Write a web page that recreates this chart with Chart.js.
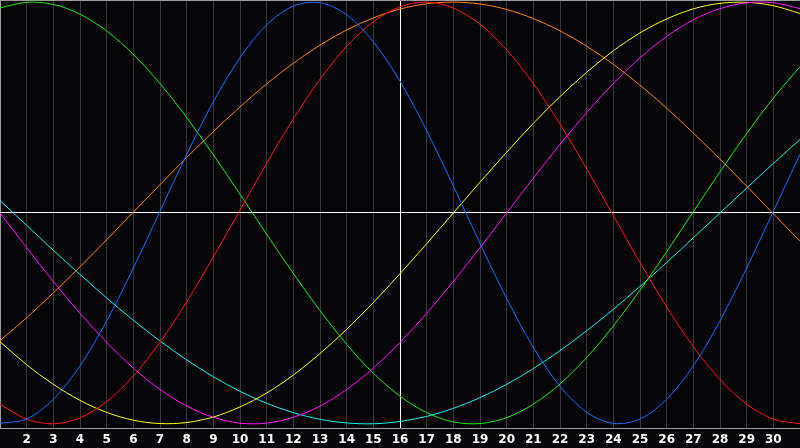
<!DOCTYPE html>
<html>
<head>
<meta charset="utf-8">
<script src="https://cdn.jsdelivr.net/npm/chart.js"></script>
<style>
  html, body { margin: 0; padding: 0; background: #050508; }
  canvas { display: block; }
</style>
</head>
<body>
<canvas id="bio" width="800" height="448"></canvas>
<script>
const days = ['1','2','3','4','5','6','7','8','9','10','11','12','13','14','15','16',
  '17','18','19','20','21','22','23','24','25','26','27','28','29','30','31'];

const physical = [-0.998,-0.977,-0.884,-0.725,-0.512,-0.262,0.008,0.278,0.527,0.736,0.892,0.981,0.997,0.940,0.812,0.625,
  0.391,0.128,-0.145,-0.406,-0.638,-0.822,-0.945,-0.998,-0.977,-0.884,-0.725,-0.512,-0.262,0.008,0.278];
const emotional = [-0.907,-0.978,-1.000,-0.972,-0.895,-0.773,-0.613,-0.422,-0.209,0.013,0.236,0.446,0.634,0.790,0.907,0.978,
  1.000,0.972,0.895,0.773,0.613,0.422,0.209,-0.013,-0.236,-0.446,-0.634,-0.790,-0.907,-0.978,-1.000];
const intellectual = [0.973,0.999,0.989,0.943,0.863,0.752,0.614,0.453,0.276,0.089,-0.101,-0.287,-0.463,-0.623,-0.760,-0.869,
  -0.947,-0.991,-0.999,-0.971,-0.907,-0.811,-0.686,-0.536,-0.366,-0.184,0.006,0.195,0.377,0.545,0.694];
const intuitive = [0.000,-0.165,-0.325,-0.476,-0.614,-0.736,-0.837,-0.916,-0.969,-0.997,-0.997,-0.969,-0.916,-0.837,-0.736,-0.614,
  -0.476,-0.325,-0.165,0.000,0.165,0.325,0.476,0.614,0.736,0.837,0.916,0.969,0.997,0.997,0.969];
const aesthetic = [-0.611,-0.720,-0.813,-0.889,-0.946,-0.983,-0.999,-0.994,-0.968,-0.920,-0.854,-0.769,-0.667,-0.552,-0.425,-0.288,
  -0.146,0.000,0.146,0.288,0.425,0.552,0.667,0.769,0.854,0.920,0.968,0.994,0.999,0.983,0.946];
const awareness = [-0.606,-0.497,-0.379,-0.255,-0.127,0.004,0.134,0.263,0.386,0.503,0.612,0.710,0.796,0.868,0.925,0.967,
  0.992,1.000,0.991,0.965,0.922,0.864,0.791,0.705,0.606,0.497,0.379,0.255,0.127,-0.004,-0.134];
const spiritual = [0.059,-0.059,-0.177,-0.292,-0.403,-0.509,-0.607,-0.697,-0.777,-0.846,-0.903,-0.947,-0.979,-0.996,-1.000,-0.989,
  -0.965,-0.927,-0.876,-0.813,-0.738,-0.653,-0.559,-0.457,-0.348,-0.235,-0.118,0.000,0.118,0.235,0.348];

const todayIndex = 15; // day 16

function series(label, data, color) {
  return {
    label: label,
    data: data,
    borderColor: color,
    borderWidth: 1,
    pointRadius: 0,
    pointHoverRadius: 0,
    pointHitRadius: 0,
    fill: false,
    tension: 0.33
  };
}

const ctx = document.getElementById('bio').getContext('2d');

var bioChart = new Chart(ctx, {
  type: 'line',
  data: {
    labels: days,
    datasets: [
      series('Physical', physical, 'rgb(20, 110, 255)'),
      series('Emotional', emotional, 'rgb(255, 20, 20)'),
      series('Intellectual', intellectual, 'rgb(30, 235, 30)'),
      series('Intuitive', intuitive, 'rgb(255, 20, 255)'),
      series('Aesthetic', aesthetic, 'rgb(255, 255, 20)'),
      series('Awareness', awareness, 'rgb(255, 130, 20)'),
      series('Spiritual', spiritual, 'rgb(20, 240, 240)')
    ]
  },
  options: {
    responsive: false,
    animation: false,
    layout: { padding: 0, autoPadding: false },
    plugins: {
      legend: { display: false },
      tooltip: { enabled: false }
    },
    scales: {
      x: {
        offset: false,
        afterFit: function(scale) {
          scale.height = 20;
          scale.paddingLeft = 0;
          scale.paddingRight = 0;
        },
        grid: {
          drawTicks: false,
          color: function(c) {
            if (c.index === todayIndex) return '#ffffff';
            if (c.index === 0) return '#9a9a9a';
            return '#38383c';
          }
        },
        border: { color: '#a0a0a0', width: 1 },
        ticks: {
          autoSkip: false,
          maxRotation: 0,
          padding: 5,
          color: '#ffffff',
          font: { family: 'DejaVu Sans', size: 12, weight: 'bold' },
          callback: function(val, i) {
            if (i === 0 || i === days.length - 1) return '';
            return days[i];
          }
        }
      },
      y: {
        min: -1.02,
        max: 1.01,
        afterFit: function(scale) { scale.width = 0; },
        border: { display: false },
        grid: {
          drawTicks: false,
          color: function(c) {
            if (c.tick.value === 0) return '#ffffff';
            if (c.tick.value === 1.01) return '#9a9a9a';
            return 'rgba(0,0,0,0)';
          }
        },
        ticks: { display: false, stepSize: 1 }
      }
    }
  }
});
</script>
</body>
</html>
